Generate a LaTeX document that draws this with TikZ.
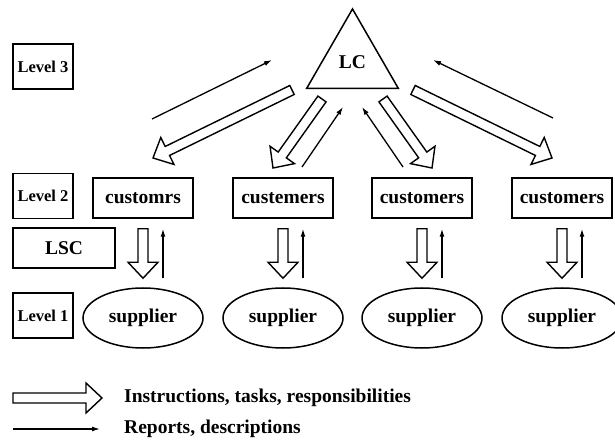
\documentclass[tikz,border=0pt]{standalone}
\usepackage{fontspec}
\setmainfont{Liberation Serif}
\usetikzlibrary{arrows.meta,positioning,calc,shapes.geometric}

% freccia a blocco da #1 a #2
\newcommand{\frecciapiena}[2]{%
  \coordinate (fb) at ($(#2)!16pt!(#1)$);
  \draw[blocco] ($(#1)!5pt!90:(#2)$) -- ($(fb)!5pt!90:(#2)$) -- ($(fb)!15pt!90:(#2)$) -- (#2)
    -- ($(fb)!15pt!-90:(#2)$) -- ($(fb)!5pt!-90:(#2)$) -- ($(#1)!5pt!-90:(#2)$) -- cycle;}

\begin{document}
\begin{tikzpicture}[x=1pt,y=-1pt,
  testo/.style={font=\fontsize{19.5}{22}\selectfont\bfseries},
  livello/.style={draw,line width=1.5pt,inner sep=0pt,font=\fontsize{16.5}{18}\selectfont\bfseries,minimum width=60pt,minimum height=45pt},
  cliente/.style={draw,line width=1.5pt,inner sep=0pt,testo,minimum width=100pt,minimum height=40pt},
  fornitore/.style={draw,ellipse,line width=1.5pt,inner sep=0pt,testo,minimum width=120pt,minimum height=60pt},
  blocco/.style={line width=1.4pt,line join=miter},
  rapporto/.style={line width=1.3pt,-{Latex[length=8pt,width=5pt]}}]
  \fill[white] (0,0) rectangle (615,443);
  \useasboundingbox (0,0) rectangle (615,443);

  % livelli
  \node[livello] (l3) at (43,66.5) {Level 3};
  \node[livello] (l2) at (43,196) {Level 2};
  \node[livello,testo,minimum width=102pt,minimum height=40pt] (lsc) at (64,248) {LSC};
  \node[livello] (l1) at (43,315.5) {Level 1};

  % centro logistico
  \node[draw,regular polygon,regular polygon sides=3,minimum size=106pt,inner sep=0pt,line width=1.5pt,testo] (lc) at (352.5,62) {LC};

  % clienti e fornitori
  \foreach \i/\x/\nome in {1/143/customrs,2/283/custemers,3/422/customers,4/562/customers}{
    \node[cliente] (c\i) at (\x,198) {\nome};
    \node[fornitore] (s\i) at (\x,318) {supplier};
  }

  % frecce verticali
  \foreach \i in {1,...,4}{
    \coordinate (ca\i) at ([yshift=-10pt]c\i.south);
    \coordinate (cb\i) at ([yshift=9pt]s\i.north);
    \frecciapiena{ca\i}{cb\i}
    \draw[rapporto] ([xshift=20pt]cb\i) -- ([xshift=20pt]ca\i);
  }

  % frecce diagonali
  \foreach \i/\a/\b in {1/{292,90}/{153,158},2/{322,99}/{273,168},3/{383,99}/{432,168},4/{413,90}/{552,158}}{
    \coordinate (da\i) at (\a); \coordinate (db\i) at (\b);
    \frecciapiena{da\i}{db\i}
  }
  \foreach \i/\a/\b in {1/{152,119}/{272,60},2/{302,167}/{343,107},3/{403,167}/{362,107},4/{553,118}/{433,60}}{
    \coordinate (ra\i) at (\a); \coordinate (rb\i) at (\b);
    \draw[rapporto] (ra\i) -- (rb\i);
  }

  % legenda
  \node[testo,anchor=west,inner sep=0pt] (leg1) at (124,398) {Instructions, tasks, responsibilities};
  \node[testo,anchor=west,inner sep=0pt] (leg2) at (124,429) {Reports, descriptions};
  \coordinate (la) at (13,398); \coordinate (lb) at ([xshift=-22pt]leg1.west);
  \frecciapiena{la}{lb}
  \coordinate (lc1) at (13,429); \coordinate (lc2) at ([xshift=-24pt]leg2.west);
  \draw[rapporto] (lc1) -- (lc2);
\end{tikzpicture}
\end{document}
